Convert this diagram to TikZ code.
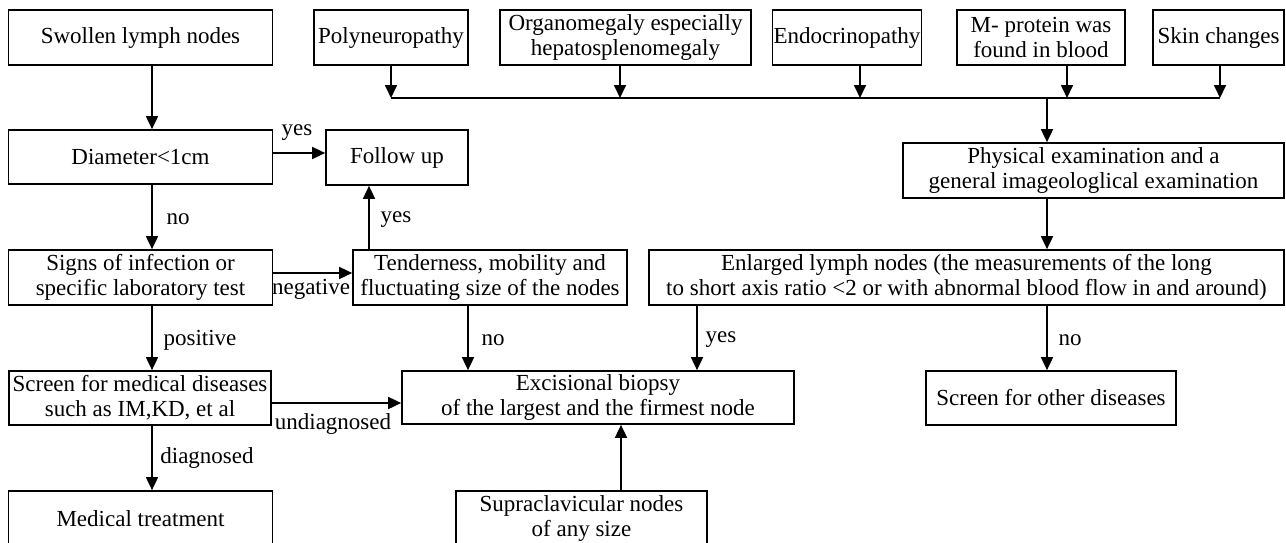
\documentclass[tikz,border=0pt]{standalone}
\usepackage{fontspec}
\setmainfont{Liberation Serif}
\usetikzlibrary{arrows.meta,calc}
\newcommand\myfs{\fontsize{23}{25}\selectfont}
\begin{document}
\begin{tikzpicture}[x=1pt,y=-1pt,
  box/.style={draw, line width=1.7pt, align=center, inner sep=0pt, font=\myfs},
  arr/.style={line width=1.7pt, -{Triangle[length=13pt,width=12pt]}},
  ln/.style={line width=1.7pt},
  lbl/.style={inner sep=0pt, font=\myfs}]
\useasboundingbox (0,0) rectangle (1286,542);
\clip (0,0) rectangle (1286,542);
% top row
\node[box, minimum width=264pt, minimum height=55pt] (swollen) at (140.5,37.5) {Swollen lymph nodes};
\node[box, minimum width=154pt, minimum height=55pt] (poly) at (391,37.5) {Polyneuropathy};
\node[box, minimum width=251pt, minimum height=55pt] (organ) at (625.5,37.5) {Organomegaly especially\\hepatosplenomegaly};
\node[box, minimum width=149pt, minimum height=55pt] (endo) at (847,37.5) {Endocrinopathy};
\node[box, minimum width=168pt, minimum height=55pt] (mprot) at (1041,37.5) {M- protein was\\found in blood};
\node[box, minimum width=131pt, minimum height=55pt] (skin) at (1218.5,37.5) {Skin changes};
% other boxes
\node[box, minimum width=264pt, minimum height=54pt] (diam) at (140.5,157) {Diameter<1cm};
\node[box, minimum width=142pt, minimum height=55pt] (follow) at (397,157.5) {Follow up};
\node[box, minimum width=381pt, minimum height=55pt] (phys) at (1093.5,170.5) {Physical examination and a\\general imageologlical examination};
\node[box, minimum width=264pt, minimum height=55pt] (signs) at (140.5,277.5) {Signs of infection or\\specific laboratory test};
\node[box, minimum width=274pt, minimum height=55pt] (tend) at (490,277.5) {Tenderness, mobility and\\fluctuating size of the nodes};
\node[box, minimum width=635pt, minimum height=55pt] (enl) at (966.5,277.5) {Enlarged lymph nodes (the measurements of the long\\to short axis ratio <2 or with abnormal blood flow in and around)};
\node[box, minimum width=262pt, minimum height=54pt] (scrmed) at (140,398) {Screen for medical diseases\\such as IM,KD, et al};
\node[box, minimum width=392pt, minimum height=53pt] (exc) at (598,397.5) {Excisional biopsy\\of the largest and the firmest node};
\node[box, minimum width=250pt, minimum height=54pt] (scroth) at (1051,398) {Screen for other diseases};
\node[box, minimum width=264pt, minimum height=55pt] (medtr) at (140.5,518.5) {Medical treatment};
\node[box, minimum width=251pt, minimum height=55pt] (supra) at (581.5,518.5) {Supraclavicular nodes\\of any size};
% helper coordinates
\coordinate (cA) at (152,0);
\coordinate (cB) at (369,0);
\coordinate (cC) at (468,0);
\coordinate (cD) at (697,0);
\coordinate (cE) at (1047,0);
\coordinate (cF) at (621,0);
\coordinate (rA) at (0,153);
\coordinate (rB) at (0,273);
\coordinate (rC) at (0,403);
\coordinate (b1) at (391,98);
\coordinate (b2) at (620,98);
\coordinate (b3) at (860,98);
\coordinate (b4) at (1067,98);
\coordinate (b5) at (1220,98);
\coordinate (bt) at (1047,98);
% bus
\draw[arr] (poly.south -| b1) -- (b1);
\draw[arr] (organ.south -| b2) -- (b2);
\draw[arr] (endo.south -| b3) -- (b3);
\draw[arr] (mprot.south -| b4) -- (b4);
\draw[arr] (skin.south -| b5) -- (b5);
\draw[ln] (b1) -- (b5);
\draw[arr] (bt) -- (phys.north -| bt);
\draw[arr] (phys.south -| cE) -- (enl.north -| cE);
% left column
\draw[arr] (swollen.south -| cA) -- (diam.north -| cA);
\draw[arr] (diam.south -| cA) -- (signs.north -| cA);
\draw[arr] (signs.south -| cA) -- (scrmed.north -| cA);
\draw[arr] (scrmed.south -| cA) -- (medtr.north -| cA);
\draw[arr] (diam.east |- rA) -- (follow.west |- rA);
\draw[arr] (tend.north -| cB) -- (follow.south -| cB);
\draw[arr] (signs.east |- rB) -- (tend.west |- rB);
\draw[arr] (tend.south -| cC) -- (exc.north -| cC);
\draw[arr] (enl.south -| cD) -- (exc.north -| cD);
\draw[arr] (enl.south -| cE) -- (scroth.north -| cE);
\draw[arr] (scrmed.east |- rC) -- (exc.west |- rC);
\draw[arr] (supra.north -| cF) -- (exc.south -| cF);
% labels
\node[lbl] (l1) at (297,133) {yes};
\node[lbl] (l2) at (178,219) {no};
\node[lbl] (l3) at (396,220) {yes};
\node[lbl] (l4) at (311,289) {negative};
\node[lbl] (l5) at (200,340) {positive};
\node[lbl] (l6) at (493,340) {no};
\node[lbl] (l7) at (721,340) {yes};
\node[lbl] (l8) at (1070,340) {no};
\node[lbl] (l9) at (333,424) {undiagnosed};
\node[lbl] (l10) at (207,458) {diagnosed};
\end{tikzpicture}
\end{document}
